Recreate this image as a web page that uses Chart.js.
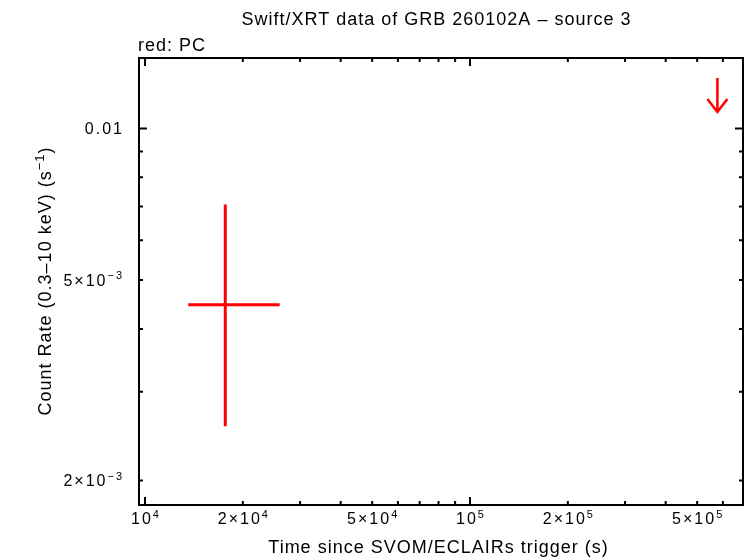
<!DOCTYPE html>
<html>
<head>
<meta charset="utf-8">
<script src="https://cdn.jsdelivr.net/npm/chart.js@4"></script>
<style>
    body { margin: 0; background: #fff; }
    #wrap { width: 746px; height: 558px; }
</style>
</head>
<body>
<div id="wrap"><canvas id="lcChart" width="746" height="558"></canvas></div>
<script>
// Swift/XRT light curve, PC mode (red)
const detTime = [17660];
const detTimeLo = [13590];
const detTimeHi = [25970];
const detRate = [4.467e-3];
const detRateLo = [2.564e-3];
const detRateHi = [7.06e-3];

// upper limits
const ulTime = [5.77e5];
const ulRate = [0.0126];

// axis ranges
const xMin = 9584, xMax = 6.918e5;
const yMin = 1.788e-3, yMax = 0.0138;

// ticks: [value, mantissa, exponent]
const xLabelTicks = [[1e4, '', '4'], [2e4, '2×', '4'], [5e4, '5×', '4'], [1e5, '', '5'], [2e5, '2×', '5'], [5e5, '5×', '5']];
const xMajorTicks = [1e4, 1e5];
const xMinorTicks = [2e4, 3e4, 4e4, 5e4, 6e4, 7e4, 8e4, 9e4, 2e5, 3e5, 4e5, 5e5, 6e5];
const yLabelTicks = [[0.01, '0.01', null], [5e-3, '5×10', '−3'], [2e-3, '2×10', '−3']];
const yMajorTicks = [0.01];
const yMinorTicks = [2e-3, 3e-3, 4e-3, 5e-3, 6e-3, 7e-3, 8e-3, 9e-3];

const FONT = '"Liberation Sans", Arial, sans-serif';
const RED = '#ff0000';

function setFont(ctx, size, spacing) {
    ctx.font = size + 'px ' + FONT;
    ctx.letterSpacing = spacing + 'px';
}

// parts: [[text, isSup], ...]
function richText(ctx, parts, x, y, align, size, spacing) {
    const supSize = Math.round(size * 0.7);
    let total = 0;
    parts.forEach(p => {
        setFont(ctx, p[1] ? supSize : size, spacing);
        total += ctx.measureText(p[0]).width;
    });
    total -= spacing;
    let cx = x;
    if (align === 'center') cx = x - total / 2;
    if (align === 'right') cx = x - total;
    ctx.textAlign = 'left';
    ctx.textBaseline = 'alphabetic';
    parts.forEach(p => {
        setFont(ctx, p[1] ? supSize : size, spacing);
        ctx.fillText(p[0], cx, p[1] ? y - size * 0.4 : y);
        cx += ctx.measureText(p[0]).width;
    });
}

const gnuplotFrame = {
    id: 'gnuplotFrame',
    afterDraw(chart) {
        const { ctx, chartArea: a, scales: { x, y } } = chart;
        ctx.save();

        // error bars
        ctx.strokeStyle = RED;
        ctx.lineWidth = 3;
        for (let i = 0; i < detTime.length; i++) {
            const px = x.getPixelForValue(detTime[i]);
            const py = y.getPixelForValue(detRate[i]);
            ctx.beginPath();
            ctx.moveTo(x.getPixelForValue(detTimeLo[i]), py);
            ctx.lineTo(x.getPixelForValue(detTimeHi[i]), py);
            ctx.moveTo(px, y.getPixelForValue(detRateHi[i]));
            ctx.lineTo(px, y.getPixelForValue(detRateLo[i]));
            ctx.stroke();
        }

        // upper limit arrows
        ctx.lineWidth = 2.5;
        for (let i = 0; i < ulTime.length; i++) {
            const px = x.getPixelForValue(ulTime[i]);
            const py = y.getPixelForValue(ulRate[i]);
            const tip = py + 34;
            ctx.beginPath();
            ctx.moveTo(px, py);
            ctx.lineTo(px, tip);
            ctx.moveTo(px - 10, tip - 13);
            ctx.lineTo(px, tip);
            ctx.lineTo(px + 10, tip - 13);
            ctx.stroke();
        }

        // frame
        ctx.strokeStyle = '#000';
        ctx.lineWidth = 2;
        ctx.strokeRect(a.left, a.top, a.right - a.left, a.bottom - a.top);

        // ticks, inward on all four sides
        ctx.beginPath();
        const xt = (v, len) => {
            const p = x.getPixelForValue(v);
            ctx.moveTo(p, a.bottom); ctx.lineTo(p, a.bottom - len);
            ctx.moveTo(p, a.top); ctx.lineTo(p, a.top + len);
        };
        const yt = (v, len) => {
            const p = y.getPixelForValue(v);
            ctx.moveTo(a.left, p); ctx.lineTo(a.left + len, p);
            ctx.moveTo(a.right, p); ctx.lineTo(a.right - len, p);
        };
        xMajorTicks.forEach(v => xt(v, 8));
        xMinorTicks.forEach(v => xt(v, 4));
        yMajorTicks.forEach(v => yt(v, 8));
        yMinorTicks.forEach(v => yt(v, 4));
        ctx.stroke();

        // tick labels
        ctx.fillStyle = '#000';
        xLabelTicks.forEach(t => {
            richText(ctx, [[t[1] + '10', false], [t[2], true]], x.getPixelForValue(t[0]), 524, 'center', 16, 2);
        });
        yLabelTicks.forEach(t => {
            const parts = [[t[1], false]];
            if (t[2]) parts.push([t[2], true]);
            richText(ctx, parts, a.left - 17, y.getPixelForValue(t[0]) + 5.5, 'right', 16, 2);
        });

        // titles
        richText(ctx, [['Swift/XRT data of GRB 260102A – source 3', false]], 436, 25, 'center', 18, 1);
        richText(ctx, [['red: PC', false]], a.left - 1, 51, 'left', 18, 1);
        richText(ctx, [['Time since SVOM/ECLAIRs trigger (s)', false]], 438, 553, 'center', 18, 1);

        ctx.translate(51, (a.top + a.bottom) / 2);
        ctx.rotate(-Math.PI / 2);
        richText(ctx, [['Count Rate (0.3–10 keV) (s', false], ['−1', true], [')', false]], 0, 0, 'center', 18, 1);
        ctx.restore();
    }
};

new Chart(document.getElementById('lcChart'), {
    type: 'scatter',
    data: {
        datasets: [{
            label: 'PC',
            data: detTime.map((t, i) => ({ x: t, y: detRate[i] })),
            pointRadius: 0
        }, {
            label: 'PC upper limits',
            data: ulTime.map((t, i) => ({ x: t, y: ulRate[i] })),
            pointRadius: 0
        }]
    },
    options: {
        responsive: false,
        animation: false,
        devicePixelRatio: 1,
        layout: { padding: { left: 139, right: 3, top: 58, bottom: 53 } },
        plugins: {
            legend: { display: false },
            title: { display: false },
            tooltip: { enabled: false }
        },
        scales: {
            x: { type: 'logarithmic', min: xMin, max: xMax, display: false },
            y: { type: 'logarithmic', min: yMin, max: yMax, display: false }
        }
    },
    plugins: [gnuplotFrame]
});
</script>
</body>
</html>
